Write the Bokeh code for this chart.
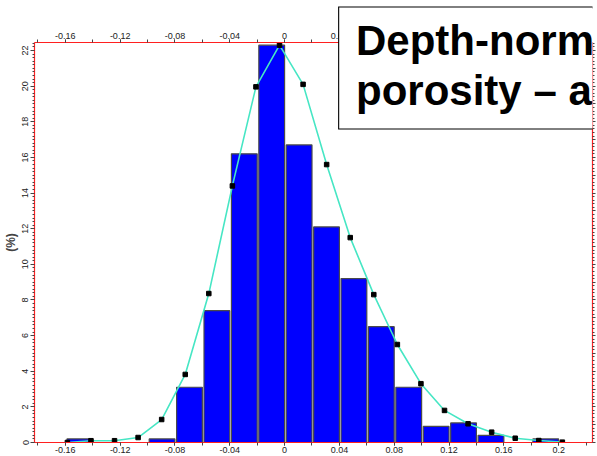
from bokeh.plotting import figure
from bokeh.models import (LinearAxis, SingleIntervalTicker, CustomJSTickFormatter,
                          Range1d, Label, ColumnDataSource, BoxAnnotation, Column)
from bokeh.embed import file_html
from bokeh.resources import INLINE

# Histogram bins (left edges, width 0.02) and frequencies in percent
bin_left = [-0.16, -0.14, -0.12, -0.10, -0.08, -0.06, -0.04, -0.02, 0.00,
            0.02, 0.04, 0.06, 0.08, 0.10, 0.12, 0.14, 0.16, 0.18]
freq_pct = [0.2, 0.0, 0.0, 0.2, 3.1, 7.4, 16.2, 22.3, 16.7,
            12.1, 9.2, 6.5, 3.1, 0.9, 1.1, 0.4, 0.0, 0.2]
bin_width = 0.02

# Fitted distribution curve
fit_x = [-0.1585, -0.1413, -0.1241, -0.1069, -0.0897, -0.0725, -0.0553,
         -0.0381, -0.0209, -0.0037, 0.0135, 0.0307, 0.0479, 0.0651,
         0.0823, 0.0995, 0.1167, 0.1339, 0.1511, 0.1683, 0.1855, 0.2027]
fit_y = [0.0, 0.1, 0.1, 0.28, 1.29, 3.82, 8.36, 14.4, 19.96, 22.3, 20.1,
         15.6, 11.5, 8.3, 5.5, 3.3, 1.8, 1.05, 0.58, 0.24, 0.11, 0.02]

title_lines = ["Depth-norm", "porosity \u2013 a"]

FONT = "Liberation Sans"
RED = "#ff2020"
TICK = "#444444"
W, H = 597, 456

gap = 0.0012
bars = [(l, h) for l, h in zip(bin_left, freq_pct) if h > 0]
src = ColumnDataSource(dict(
    left=[l + gap for l, _ in bars],
    right=[l + bin_width for l, _ in bars],
    top=[h for _, h in bars],
))

p = figure(width=W, height=H, output_backend="svg", toolbar_location=None,
           x_range=Range1d(-0.1825, 0.2247), y_range=Range1d(0, 22.45),
           x_axis_location=None, y_axis_location=None,
           min_border_left=32, min_border_right=5,
           min_border_top=42, min_border_bottom=14)
p.xgrid.visible = False
p.ygrid.visible = False
p.outline_line_color = None
p.background_fill_color = "white"
p.border_fill_color = "white"

p.quad(left="left", right="right", bottom=0, top="top", source=src,
       fill_color="#0000ff", line_color="#4a4a4a", line_width=1.2)

p.line(fit_x, fit_y, line_color="#46e6c4", line_width=1.6)
p.scatter(fit_x, fit_y, marker="square", size=4.5, fill_color="black",
          line_color="black")

num_fmt = CustomJSTickFormatter(code="return String(Math.round(tick*100)/100);")
blank_fmt = CustomJSTickFormatter(code="return '';")


def style_axis(ax):
    ax.axis_line_color = RED
    ax.axis_line_width = 1.2
    ax.major_tick_line_color = TICK
    ax.minor_tick_line_color = TICK
    ax.major_tick_in = 0
    ax.minor_tick_in = 0
    ax.major_label_text_font = FONT
    ax.major_label_text_font_size = "9px"
    ax.major_label_text_color = "#222222"


for loc in ("below", "above"):
    ax = LinearAxis(ticker=SingleIntervalTicker(interval=0.04, num_minor_ticks=2),
                    formatter=num_fmt)
    style_axis(ax)
    ax.major_tick_out = 3
    ax.minor_tick_out = 3
    ax.major_label_standoff = 1
    p.add_layout(ax, loc)

yl = LinearAxis(ticker=SingleIntervalTicker(interval=2, num_minor_ticks=10),
                formatter=num_fmt, axis_label="(%)")
style_axis(yl)
yl.major_tick_out = 4
yl.minor_tick_out = 2
yl.major_label_standoff = 2
yl.major_label_orientation = "vertical"
yl.axis_label_text_font = FONT
yl.axis_label_text_font_style = "bold"
yl.axis_label_text_font_size = "12px"
yl.axis_label_standoff = 2
p.add_layout(yl, "left")

yr = LinearAxis(ticker=SingleIntervalTicker(interval=1, num_minor_ticks=5),
                formatter=blank_fmt)
style_axis(yr)
yr.major_tick_out = 3
yr.minor_tick_out = 2
yr.major_label_standoff = 0
p.add_layout(yr, "right")

# Transparent overlay in pixel units (y up) carrying the boxed title
t = figure(width=W, height=H, output_backend="svg", toolbar_location=None,
           title=None, x_range=Range1d(0, W), y_range=Range1d(0, H),
           x_axis_location=None, y_axis_location=None, min_border=0)
t.xgrid.visible = False
t.ygrid.visible = False
t.outline_line_color = None
t.background_fill_alpha = 0
t.border_fill_alpha = 0
t.styles = {"position": "absolute", "left": "0px", "top": "0px", "z-index": "10"}

BOX_L, BOX_T, BOX_B = 326, H - 7, H - 128
t.add_layout(BoxAnnotation(left=BOX_L, right=W + 40, bottom=BOX_B, top=BOX_T,
                           fill_color="white", fill_alpha=1.0, line_alpha=0))
# open-ended frame: left, top and bottom edges only
t.line([W + 40, BOX_L, BOX_L, W + 40], [BOX_T, BOX_T, BOX_B, BOX_B],
       line_color="black", line_width=2.2, line_join="miter")
for i, line in enumerate(title_lines):
    t.add_layout(Label(x=BOX_L + 18, y=H - 40 - 50 * i, text=line,
                       text_align="left", text_baseline="alphabetic",
                       text_font=FONT, text_font_style="bold",
                       text_font_size="42px", text_color="black"))

layout = Column(children=[p, t])
open("out.html", "w").write(file_html(layout, INLINE))
